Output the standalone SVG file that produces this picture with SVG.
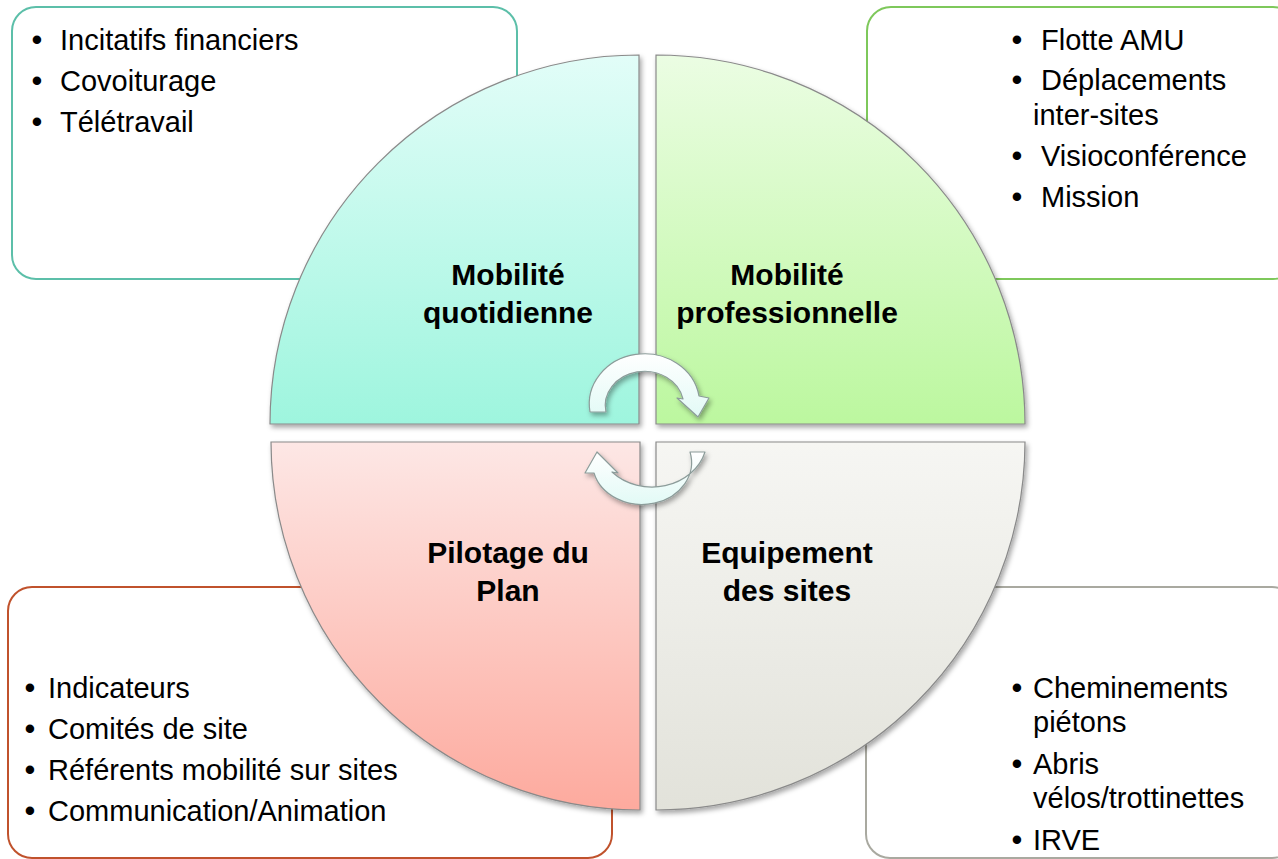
<svg xmlns="http://www.w3.org/2000/svg" width="1278" height="859" viewBox="0 0 1278 859">
<defs>
<linearGradient id="gTL" x1="0" y1="0" x2="0" y2="1"><stop offset="0" stop-color="#e2fdf8"/><stop offset="1" stop-color="#9ef5de"/></linearGradient>
<linearGradient id="gTR" x1="0" y1="0" x2="0" y2="1"><stop offset="0" stop-color="#ebfde3"/><stop offset="1" stop-color="#bcf79f"/></linearGradient>
<linearGradient id="gBL" x1="0" y1="0" x2="0" y2="1"><stop offset="0" stop-color="#fde7e5"/><stop offset="1" stop-color="#fdaa9e"/></linearGradient>
<linearGradient id="gBR" x1="0" y1="0" x2="0" y2="1"><stop offset="0" stop-color="#f6f6f3"/><stop offset="1" stop-color="#e2e2da"/></linearGradient>
<linearGradient id="gAr" x1="0" y1="0" x2="0" y2="1"><stop offset="0" stop-color="#ffffff"/><stop offset="1" stop-color="#e2faf6"/></linearGradient>
<filter id="sh" x="-10%" y="-10%" width="130%" height="130%"><feDropShadow dx="2" dy="3" stdDeviation="2.5" flood-color="#000" flood-opacity="0.35"/></filter>
</defs>
<style>
.box{fill:#ffffff;stroke-width:2}
.q{stroke:#8a8a8a;stroke-width:1.2;filter:url(#sh)}
.lab{font-family:"Liberation Sans",Arial,sans-serif;font-weight:bold;font-size:30px;fill:#000;text-anchor:middle}
.li{font-family:"Liberation Sans",Arial,sans-serif;font-size:29px;fill:#000}
.bu{font-family:"Liberation Sans",Arial,sans-serif;font-size:31px;fill:#000;text-anchor:middle}
.arr{fill:url(#gAr);stroke:#8c9c9a;stroke-width:1.2;stroke-linejoin:round;filter:url(#sh)}
</style>
<rect width="1278" height="859" fill="#ffffff"/>
<g id="box-quotidienne">
<rect class="box" x="12" y="7" width="505" height="272" rx="24" stroke="#5cbfa9"/>
<text class="bu" x="37" y="50">•</text><text class="li" x="60" y="50">Incitatifs financiers</text>
<text class="bu" x="37" y="91">•</text><text class="li" x="60" y="91">Covoiturage</text>
<text class="bu" x="37" y="132">•</text><text class="li" x="60" y="132">Télétravail</text>
</g>
<g id="box-professionnelle">
<rect class="box" x="867" y="7" width="430" height="272" rx="24" stroke="#7ec85b"/>
<text class="bu" x="1017" y="50">•</text><text class="li" x="1041" y="50">Flotte AMU</text>
<text class="bu" x="1017" y="90">•</text><text class="li" x="1041" y="90">Déplacements</text>
<text class="li" x="1033" y="125">inter-sites</text>
<text class="bu" x="1017" y="166">•</text><text class="li" x="1041" y="166">Visioconférence</text>
<text class="bu" x="1017" y="207">•</text><text class="li" x="1041" y="207">Mission</text>
</g>
<g id="box-pilotage">
<rect class="box" x="8" y="587" width="604" height="271" rx="24" stroke="#c0522c"/>
<text class="bu" x="30" y="698">•</text><text class="li" x="48" y="698">Indicateurs</text>
<text class="bu" x="30" y="739">•</text><text class="li" x="48" y="739">Comités de site</text>
<text class="bu" x="30" y="780">•</text><text class="li" x="48" y="780">Référents mobilité sur sites</text>
<text class="bu" x="30" y="821">•</text><text class="li" x="48" y="821">Communication/Animation</text>
</g>
<g id="box-equipement">
<rect class="box" x="866" y="587" width="430" height="271" rx="24" stroke="#a9a9a0"/>
<text class="bu" x="1017" y="698">•</text><text class="li" x="1033" y="698">Cheminements</text>
<text class="li" x="1033" y="732">piétons</text>
<text class="bu" x="1017" y="774">•</text><text class="li" x="1033" y="774">Abris</text>
<text class="li" x="1033" y="808">vélos/trottinettes</text>
<text class="bu" x="1017" y="850">•</text><text class="li" x="1033" y="850">IRVE</text>
</g>
<g id="node-mobilite-quotidienne">
<path class="q" fill="url(#gTL)" d="M639,424 H270 A369,369 0 0 1 639,55 Z"/>
<text class="lab" x="508" y="285">Mobilité</text>
<text class="lab" x="508" y="323">quotidienne</text>
</g>
<g id="node-mobilite-professionnelle">
<path class="q" fill="url(#gTR)" d="M656,424 V55 A369,369 0 0 1 1025,424 Z"/>
<text class="lab" x="787" y="285">Mobilité</text>
<text class="lab" x="787" y="323">professionnelle</text>
</g>
<g id="node-pilotage">
<path class="q" fill="url(#gBL)" d="M640,442 V810 A369,369 0 0 1 271,442 Z"/>
<text class="lab" x="508" y="563">Pilotage du</text>
<text class="lab" x="508" y="601">Plan</text>
</g>
<g id="node-equipement">
<path class="q" fill="url(#gBR)" d="M656,442 H1025 A369,369 0 0 1 656,810 Z"/>
<text class="lab" x="787" y="563">Equipement</text>
<text class="lab" x="787" y="601">des sites</text>
</g>
<g id="connectors">
<path class="arr" d="M590,412 A55,50 0 0 1 699,396 L709,398 L698,417 L677,398 L683,399 A39,34 0 0 0 606,412 Z"/>
<path class="arr" d="M705,452 A55,48 0 0 1 612,472 L618,473 L597,452 L585,473 L594,473 A39,33 0 0 0 690,452 Z"/>
</g>
</svg>
